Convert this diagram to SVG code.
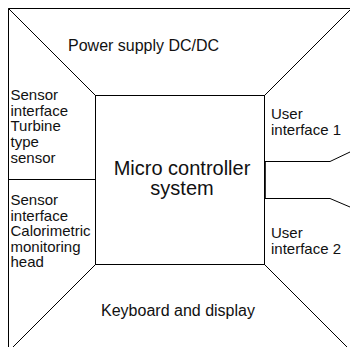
<svg xmlns="http://www.w3.org/2000/svg" width="350" height="347" viewBox="0 0 350 347">
<style>
.ln{stroke:#000;stroke-width:1;fill:none}
.t{font-family:"Liberation Sans",Arial,Helvetica,sans-serif;fill:#111}
.s{font-size:15px}
.m{font-size:16px}
.b{font-size:20px}
</style>
<rect width="350" height="347" fill="#fff"/>
<g id="connectors">
<path class="ln" d="M8.5,347 V8.5 H350"/>
<path class="ln" d="M8.5,8.5 L95.5,95.5"/>
<path class="ln" d="M264.5,95.5 L351,9"/>
<path class="ln" d="M95.5,264.5 L12.5,347.5"/>
<path class="ln" d="M264.5,264.5 L347.5,347.5"/>
<path class="ln" d="M8.5,179.5 H95.5"/>
<path class="ln" d="M264.5,161.5 H330 L350,152"/>
<path class="ln" d="M264.5,198.5 H330 L350,207"/>
<path stroke="#000" stroke-width="1.2" d="M265.2,161.5 V198.5"/>
</g>
<g id="micro">
<rect class="ln" x="95.5" y="95.5" width="169" height="169"/>
<text class="t b" x="182" y="175" text-anchor="middle">Micro controller</text>
<text class="t b" x="182" y="195" text-anchor="middle">system</text>
</g>
<g id="power">
<text class="t m" x="68" y="50.5">Power supply DC/DC</text>
</g>
<g id="keyboard">
<text class="t m" x="178" y="315.5" text-anchor="middle">Keyboard and display</text>
</g>
<g id="sensor1">
<text class="t s" x="10.5" y="100">Sensor</text>
<text class="t s" x="10.5" y="115.7">interface</text>
<text class="t s" x="10.5" y="131.4">Turbine</text>
<text class="t s" x="10.5" y="147.1">type</text>
<text class="t s" x="10.5" y="162.8">sensor</text>
</g>
<g id="sensor2">
<text class="t s" x="10.5" y="205.2">Sensor</text>
<text class="t s" x="10.5" y="220.7">interface</text>
<text class="t s" x="10.5" y="236.2">Calorimetric</text>
<text class="t s" x="10.5" y="251.7">monitoring</text>
<text class="t s" x="10.5" y="267.2">head</text>
</g>
<g id="ui1">
<text class="t s" x="271" y="119">User</text>
<text class="t s" x="271" y="135">interface 1</text>
</g>
<g id="ui2">
<text class="t s" x="271" y="238">User</text>
<text class="t s" x="271" y="254">interface 2</text>
</g>
</svg>
